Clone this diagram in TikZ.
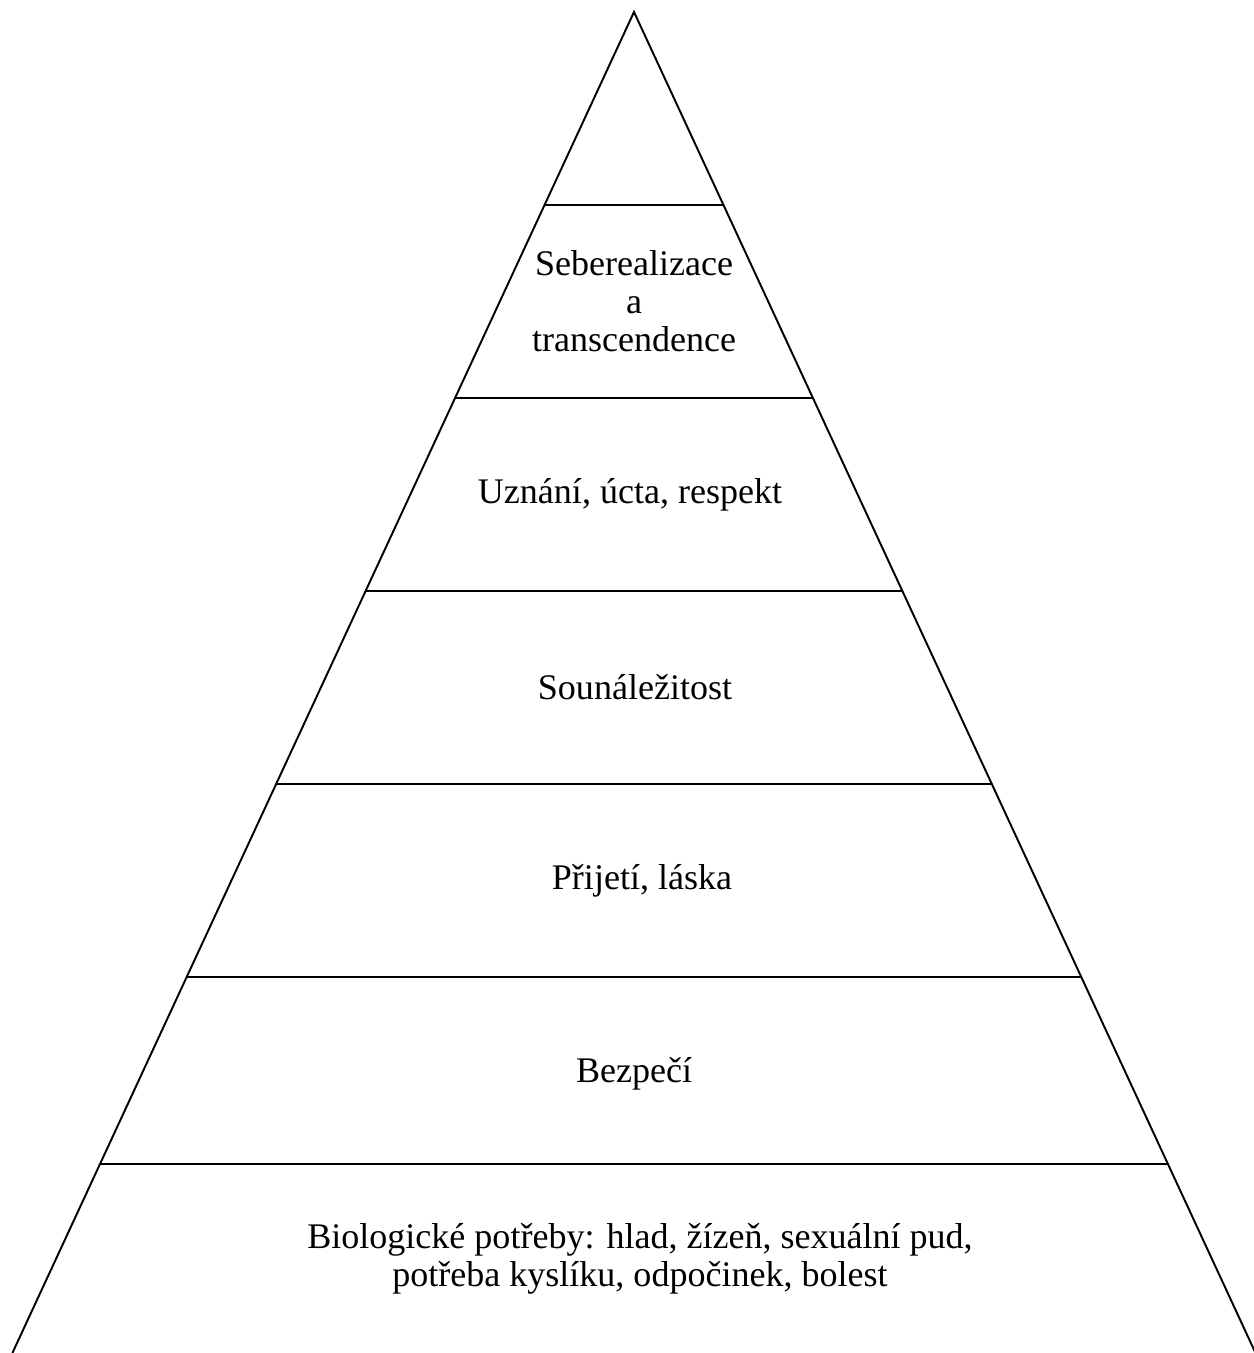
\documentclass[tikz,border=0pt]{standalone}
\usepackage{fontspec}
\setmainfont{Liberation Serif}
\usetikzlibrary{calc}
\tikzset{%
	band/.style = {line width=1.1pt},
	tier/.style = {align=center, inner sep=0pt, font=\fontsize{20.5}{21.6}\selectfont},
}
\begin{document}
\begin{tikzpicture}
		\useasboundingbox (0,0) rectangle (25.06,27.06);
		\coordinate (apex) at (12.68,26.82);
		\coordinate (bl) at (0.248,0);
		\coordinate (br) at (25.11,0);
		
		\draw[band] (bl) -- (apex) -- (br);
		\foreach \t in {0.14392,0.28784,0.43177,0.57569,0.71961,0.85906}
			\draw[band] ($(apex)!\t!(bl)$) -- ($(apex)!\t!(br)$);
		
		\node[tier] (selfreal) at (12.68,21.03) {Seberealizace\\a\\transcendence};
		\node[tier] (esteem) at (12.6,17.17) {Uznání, úcta, respekt};
		\node[tier] (belong) at (12.7,13.31) {Sounáležitost};
		\node[tier] (love) at (12.84,9.45) {Přijetí, láska};
		\node[tier] (safety) at (12.68,5.59) {Bezpečí};
		\node[tier] (bio) at (12.8,1.89) {Biologické potřeby: hlad, žízeň, sexuální pud,\\potřeba kyslíku, odpočinek, bolest};
		\end{tikzpicture}
\end{document}
